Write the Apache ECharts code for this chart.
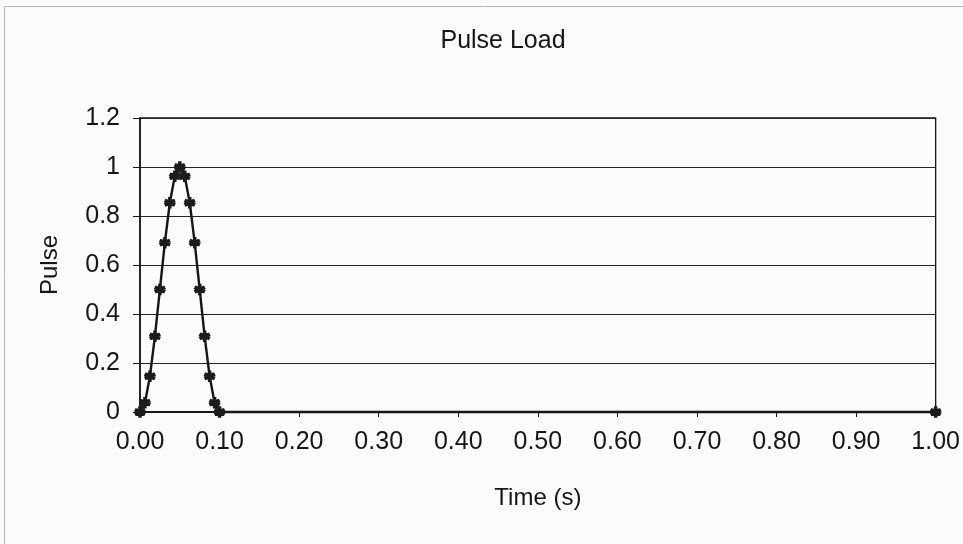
<!DOCTYPE html>
<html>
<head>
<meta charset="utf-8">
<title>Pulse Load</title>
<script src="https://cdn.jsdelivr.net/npm/echarts@6/dist/echarts.min.js"></script>
<style>
  html, body { margin: 0; padding: 0; background: #fbfbfb; }
  #chart { width: 963px; height: 544px; }
</style>
</head>
<body>
<div id="chart"></div>
<script>
// Haversine pulse sampled over 0–0.1 s, then held at zero until 1.0 s
const timeValues = [0, 0.00625, 0.0125, 0.01875, 0.025, 0.03125, 0.0375, 0.04375, 0.05,
                    0.05625, 0.0625, 0.06875, 0.075, 0.08125, 0.0875, 0.09375, 0.1, 1.0];
const pulseValues = [0, 0.038, 0.146, 0.309, 0.5, 0.691, 0.854, 0.962, 1,
                     0.962, 0.854, 0.691, 0.5, 0.309, 0.146, 0.038, 0, 0];

const titleText = 'Pulse Load';
const xAxisName = 'Time (s)';
const yAxisName = 'Pulse';

const ink = '#161616';
const font = 'Liberation Sans, Arial, sans-serif';

const chart = echarts.init(document.getElementById('chart'), null, { renderer: 'canvas' });

const points = timeValues.map((t, i) => [t, pulseValues[i]]);

chart.setOption({
  backgroundColor: '#fbfbfb',
  animation: false,
  title: {
    text: titleText,
    left: 498,
    top: 24,
    textAlign: 'center',
    textStyle: { fontFamily: font, fontSize: 25, fontWeight: 'normal', color: ink }
  },
  grid: {
    left: 140, right: 26, top: 118, bottom: 132,
    show: true, borderColor: ink, borderWidth: 1.3, backgroundColor: 'transparent'
  },
  graphic: [
    {
      type: 'rect', silent: true,
      shape: { x: 4.5, y: 6.5, width: 980, height: 560 },
      style: { fill: 'none', stroke: '#b8b8b8', lineWidth: 1 }
    }
  ],
  xAxis: {
    type: 'value',
    min: 0, max: 1, interval: 0.1,
    name: xAxisName,
    nameLocation: 'middle',
    nameGap: 74,
    nameTextStyle: { fontFamily: font, fontSize: 24, color: ink },
    axisLine: { show: true, onZero: false, lineStyle: { color: ink, width: 2.2 } },
    axisTick: { show: true, length: 5, inside: false, lineStyle: { color: ink, width: 1 } },
    axisLabel: {
      fontFamily: font, fontSize: 25, color: ink, margin: 18,
      formatter: v => v.toFixed(2)
    },
    splitLine: { show: false }
  },
  yAxis: {
    type: 'value',
    min: 0, max: 1.2, interval: 0.2,
    name: yAxisName,
    nameLocation: 'middle',
    nameGap: 78,
    nameRotate: 90,
    nameTextStyle: { fontFamily: font, fontSize: 24, color: ink },
    axisLine: { show: true, lineStyle: { color: ink, width: 1.6 } },
    axisTick: { show: true, length: 7, inside: false, lineStyle: { color: ink, width: 1 } },
    axisLabel: {
      fontFamily: font, fontSize: 25, color: ink, margin: 20,
      formatter: v => String(Math.round(v * 10) / 10)
    },
    splitLine: { show: true, lineStyle: { color: '#262626', width: 1.1 } }
  },
  series: [
    {
      type: 'line',
      data: points,
      symbol: 'path://M4,0 L6,0 L6,3 L9,2 L10,4 L7,5 L10,6 L9,8 L6,7 L6,10 L4,10 L4,7 L1,8 L0,6 L3,5 L0,4 L1,2 L4,3 Z',
      symbolSize: 10,
      showAllSymbol: true,
      itemStyle: { color: '#1c1c1c', borderColor: '#1c1c1c', borderWidth: 1.5 },
      lineStyle: { color: '#161616', width: 2.4 },
      clip: false
    }
  ]
});
</script>
</body>
</html>
